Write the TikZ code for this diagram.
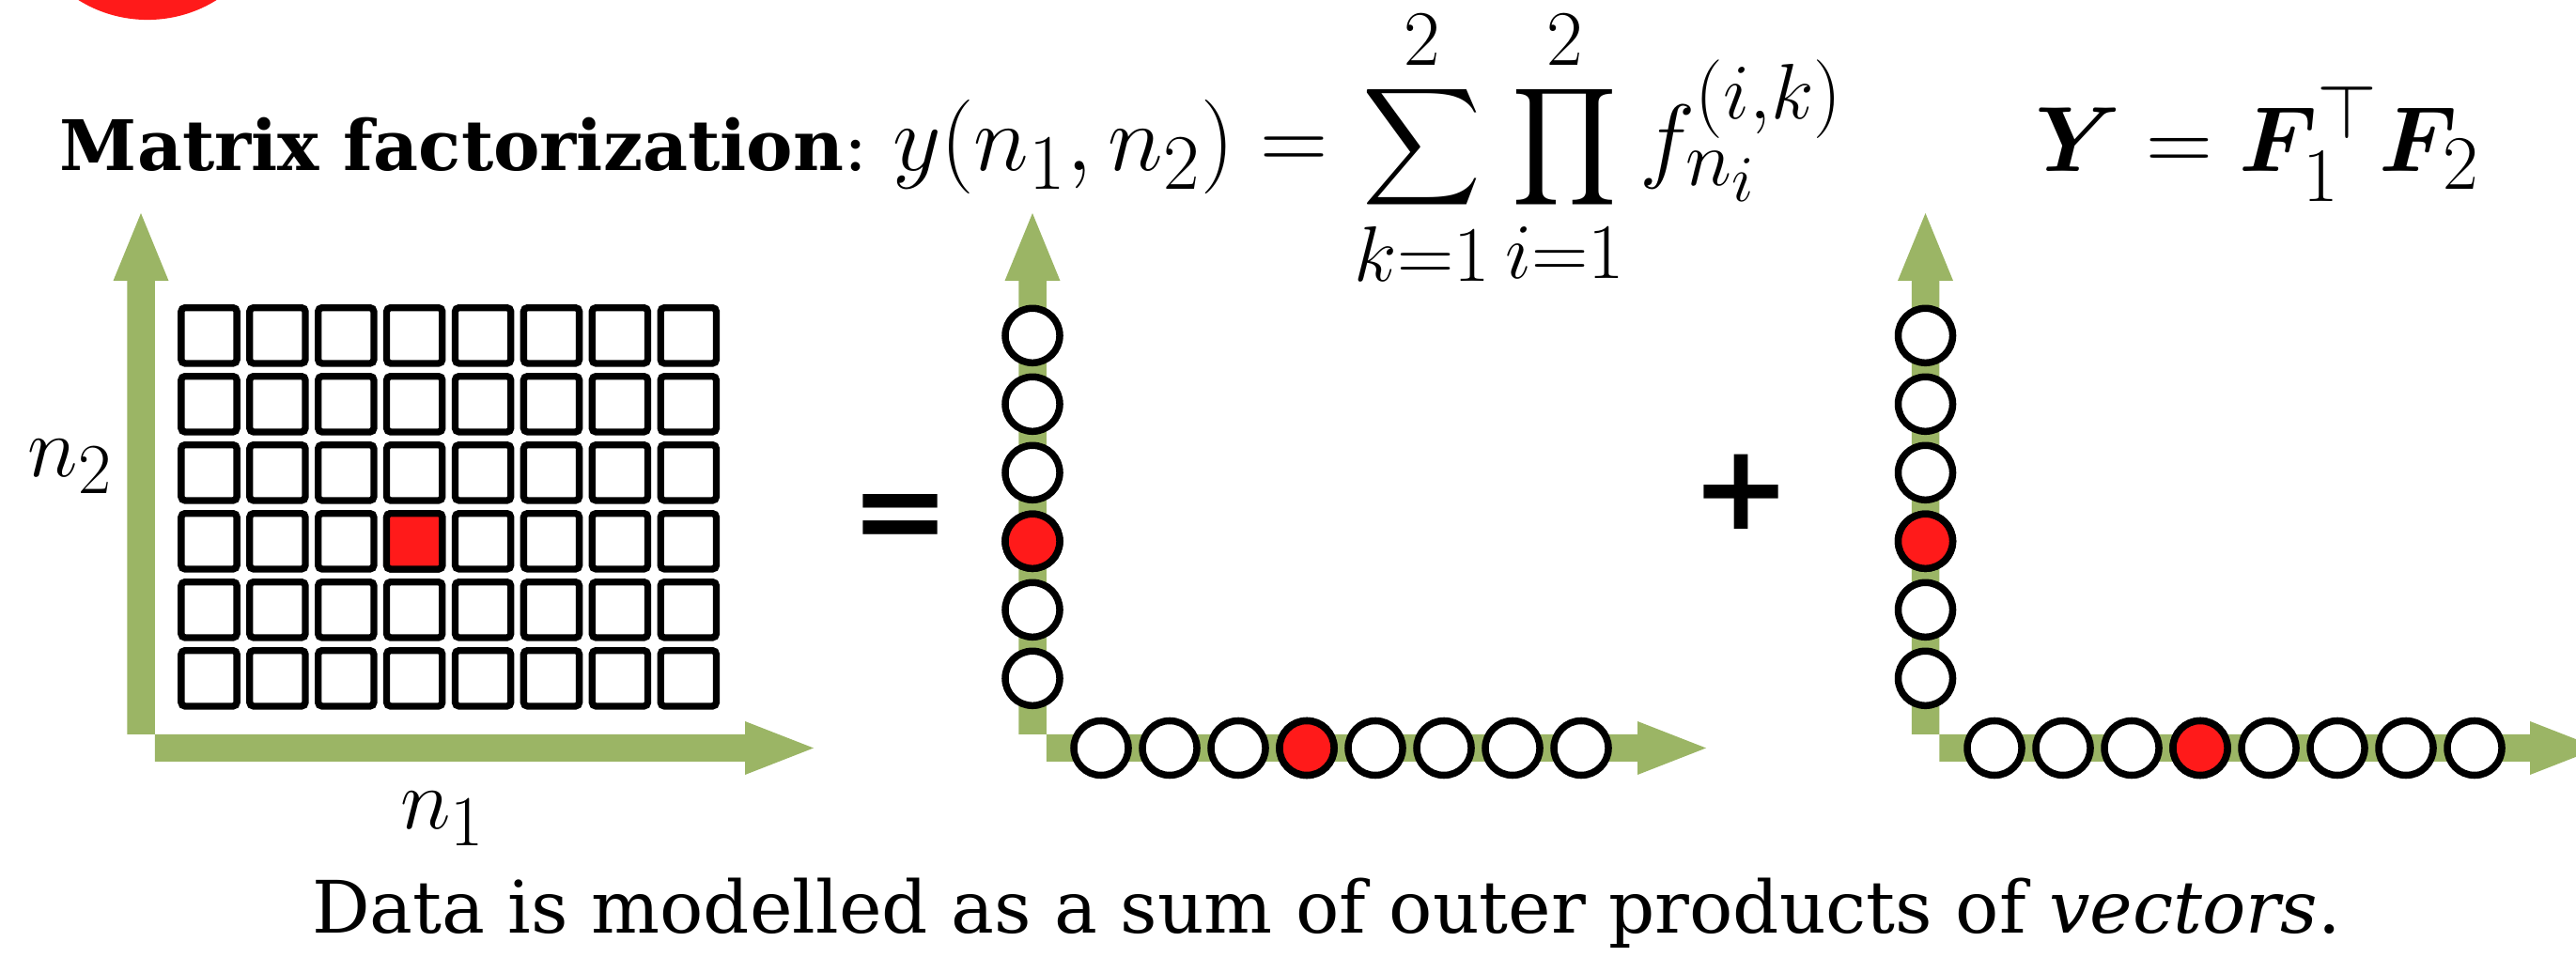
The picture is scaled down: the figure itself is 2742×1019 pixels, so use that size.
\RequirePackage{fix-cm}
\documentclass[tikz,border=0pt]{standalone}
\usepackage{amsmath,bm}
\usepackage{graphicx}
\usepackage{fontspec}
\setmainfont{DejaVu Serif}
\newfontfamily\opfont{DejaVu Sans}
\DeclareMathSizes{26}{26}{21.7}{18.1}
\DeclareMathSizes{28}{28}{23.3}{19.4}
\DeclareMathSizes{28.5}{28.5}{23.8}{19.8}
\definecolor{axgreen}{RGB}{155,181,101}
\definecolor{redc}{RGB}{255,26,26}
\tikzset{
  sqbox/.style={draw=black, line width=0.073cm, rounded corners=0.04cm, minimum size=0.592cm, inner sep=0pt, fill=white},
  dotc/.style={circle, draw=black, line width=0.075cm, minimum size=0.58cm, inner sep=0pt, fill=white},
  hot/.style={fill=redc},
  txt/.style={anchor=base west, inner sep=0pt, outer sep=0pt},
}
\begin{document}
\begin{tikzpicture}[x=0.01cm, y=-0.01cm]
\useasboundingbox (0,0) rectangle (2742,1019);
\clip (0,0) rectangle (2742,1019);
% red blob at top-left
\fill[redc] (157,-118) circle[radius=1.39cm];
% axes
\foreach \cx/\hb in {150/793, 1099/1743, 2049.5/2693} {
  \fill[axgreen] (\cx-14.75,782) -- (\cx-14.75,299) -- (\cx-29.5,299) -- (\cx,227)
     -- (\cx+29.5,299) -- (\cx+14.75,299) -- (\cx+14.75,782) -- cycle;
  \fill[axgreen] (\cx+14.75,782) -- (\hb,782) -- (\hb,768) -- (\hb+73,796.5)
     -- (\hb,825) -- (\hb,811) -- (\cx+14.75,811) -- cycle;
}
% grid of squares
\foreach \c in {0,...,7} {
  \foreach \r in {0,...,5} {
    \node[sqbox] (sq-\c-\r) at (222.5+72.9*\c, 357.3+73*\r) {};
  }
}
\node[sqbox, hot] (sq-red) at (222.5+72.9*3, 357.3+73*3) {};
% middle factor
\foreach \r in {0,...,5} {
  \node[dotc] (mv-\r) at (1099, 357.3+73*\r) {};
}
\foreach \c in {0,...,7} {
  \node[dotc] (mh-\c) at (1172+73*\c, 796.5) {};
}
\node[dotc, hot] (mv-red) at (1099, 357.3+73*3) {};
\node[dotc, hot] (mh-red) at (1172+73*3, 796.5) {};
% right factor
\foreach \r in {0,...,5} {
  \node[dotc] (rv-\r) at (2049.5, 357.3+73*\r) {};
}
\foreach \c in {0,...,7} {
  \node[dotc] (rh-\c) at (2123+73*\c, 796.5) {};
}
\node[dotc, hot] (rv-red) at (2049.5, 357.3+73*3) {};
\node[dotc, hot] (rh-red) at (2123+73*3, 796.5) {};
% operators
\node[inner sep=0pt] (eqsign) at (959,556.5) {\fontsize{36}{36}\selectfont\opfont\bfseries =};
\node[inner sep=0pt] (plussign) at (1853.5,524) {\fontsize{36}{36}\selectfont\opfont\bfseries +};
% texts
\node[txt] (title) at (64,182) {\fontsize{21.1}{25}\selectfont\textbf{Matrix factorization}:};
\node[txt] (eqL) at (950,182) {\fontsize{28.5}{32}\selectfont $\displaystyle y(n_1, n_2) = \sum_{k=1}^{2}\prod_{i=1}^{2} f_{n_i}^{(i,k)}$};
\node[txt] (eqR) at (2166,183) {\fontsize{28}{32}\selectfont $\bm{Y} = \bm{F}_1^{\top}\bm{F}_2$};
\node[txt] (n2) at (30,508) {\fontsize{26}{30}\selectfont $n_2$};
\node[txt] (n1) at (426,883) {\fontsize{26}{30}\selectfont $n_1$};
\node[txt] (caption) at (332,993) {\fontsize{21.9}{26}\selectfont Data is modelled as a sum of outer products of \textit{vectors}.};
\end{tikzpicture}
\end{document}
